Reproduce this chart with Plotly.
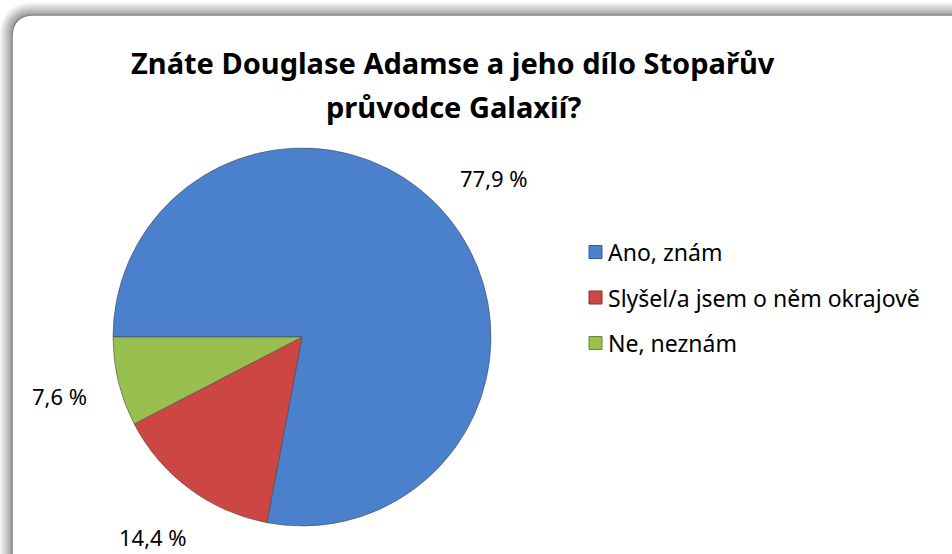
import plotly.graph_objects as go
import math

# ---- data ----
title_lines = ["Znáte Douglase Adamse a jeho dílo Stopařův", "průvodce Galaxií?"]
labels = ["Ano, znám", "Slyšel/a jsem o něm okrajově", "Ne, neznám"]
values = [77.9, 14.4, 7.6]
colors = ["#4a80cc", "#cc4744", "#98bf4f"]
edge_colors = ["#2f5d9a", "#8f2c2a", "#6a8a30"]

W, H = 952, 554
FONT = "Noto Sans"


def px(x):
    return x / W


def py(y):
    return 1 - y / H


# pie geometry (pixels)
cx, cy, R = 302, 337, 189

fig = go.Figure()
fig.add_trace(go.Pie(
    labels=labels,
    values=values,
    sort=False,
    direction="clockwise",
    rotation=270,
    marker=dict(colors=colors, line=dict(color="rgba(70,70,70,0.55)", width=1)),
    textinfo="none",
    hoverinfo="label+percent",
    showlegend=False,
    domain=dict(x=[px(cx - R), px(cx + R)], y=[py(cy + R), py(cy - R)]),
))

annotations = []
# title
title_y = [62, 106]
for line, yy in zip(title_lines, title_y):
    annotations.append(dict(text=f"<b>{line}</b>", x=px(453), y=py(yy), xref="paper", yref="paper",
                            showarrow=False, xanchor="center", yanchor="middle",
                            font=dict(family=FONT, size=29, color="#000000")))

# data labels placed from slice mid-angles
total = sum(values)
cum = 0.0
for v in values:
    mid = math.radians(270 + 360 * (cum + v / 2) / total)
    cum += v
    d = 1.32 * R
    lx = cx + d * math.sin(mid)
    ly = cy - d * math.cos(mid)
    txt = f"{v:.1f} %".replace(".", ",")
    annotations.append(dict(text=txt, x=px(lx), y=py(ly), xref="paper", yref="paper",
                            showarrow=False, xanchor="center", yanchor="middle",
                            font=dict(family=FONT, size=22, color="#000000")))

# manual legend
shapes = []
leg_x, leg_y0, leg_dy, sq = 589, 252, 45.5, 13
for i, (lab, col, ec) in enumerate(zip(labels, colors, edge_colors)):
    yc = leg_y0 + i * leg_dy
    shapes.append(dict(type="rect", xref="paper", yref="paper",
                       x0=px(leg_x), x1=px(leg_x + sq), y0=py(yc + sq / 2), y1=py(yc - sq / 2),
                       fillcolor=col, line=dict(color=ec, width=1)))
    annotations.append(dict(text=lab, x=px(leg_x + sq + 4), y=py(yc), xref="paper", yref="paper",
                            showarrow=False, xanchor="left", yanchor="middle",
                            font=dict(family=FONT, size=23, color="#000000")))


def rrect(x0, y0, x1, y1, r):
    pts = [
        ("M", [(x0 + r, y0)]), ("L", [(x1 - r, y0)]), ("Q", [(x1, y0), (x1, y0 + r)]),
        ("L", [(x1, y1 - r)]), ("Q", [(x1, y1), (x1 - r, y1)]), ("L", [(x0 + r, y1)]),
        ("Q", [(x0, y1), (x0, y1 - r)]), ("L", [(x0, y0 + r)]), ("Q", [(x0, y0), (x0 + r, y0)]),
    ]
    s = ""
    for cmd, ps in pts:
        s += cmd + " " + " ".join(f"{px(a):.5f},{py(b):.5f}" for a, b in ps) + " "
    return s + "Z"


# frame shadow (outer, top-left)
for k in range(12, 0, -1):
    g = int(250 - (12 - k) * 8)
    shapes.append(dict(type="path", xref="paper", yref="paper",
                       path=rrect(12 - k, 15 - k, 985 + k, 585 + k, 22 + k),
                       line=dict(color=f"rgb({g},{g},{g})", width=1.5), layer="below"))
shapes.append(dict(type="path", xref="paper", yref="paper",
                   path=rrect(12, 15, 985, 585, 22),
                   fillcolor="white", line=dict(color="#858585", width=1.5), layer="below"))

fig.update_layout(
    width=W, height=H,
    margin=dict(l=0, r=0, t=0, b=0),
    paper_bgcolor="white",
    plot_bgcolor="white",
    annotations=annotations,
    shapes=shapes,
    font=dict(family=FONT),
)

fig.write_html("out.html")
